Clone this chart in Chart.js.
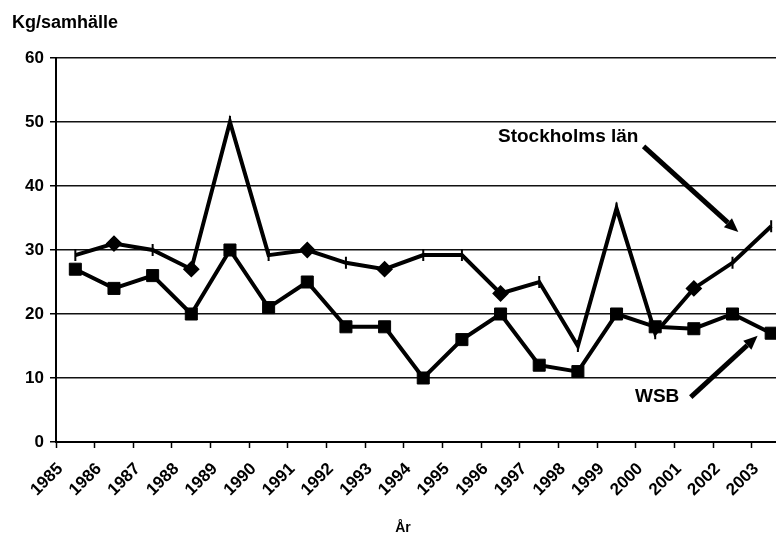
<!DOCTYPE html>
<html>
<head>
<meta charset="utf-8">
<script src="https://cdn.jsdelivr.net/npm/chart.js@4.4.1/dist/chart.umd.min.js"></script>
<style>
  html, body { margin: 0; padding: 0; background: #fff; overflow: hidden; }
  #wrap { position: relative; width: 800px; height: 540px; }
</style>
</head>
<body>
<div id="wrap"><canvas id="chart"></canvas></div>
<script>
// --- DATA ---
const years = ['1985', '1986', '1987', '1988', '1989', '1990', '1991', '1992', '1993', '1994',
               '1995', '1996', '1997', '1998', '1999', '2000', '2001', '2002', '2003'];
const stockholm = [29.2, 31, 30, 27, 50, 29.2, 30, 28, 27, 29.2, 29.2, 23.2, 25, 15, 36.5, 17, 24, 28, 33.7];
const wsb = [27, 24, 26, 20, 30, 21, 25, 18, 18, 10, 16, 20, 12, 11, 20, 18, 17.7, 20, 17];
// markörer för Stockholms län (streck eller romb)
const stockholmMarkers = ['line', 'rectRot', 'line', 'rectRot', 'line', 'line', 'rectRot', 'line', 'rectRot', 'line',
                          'line', 'rectRot', 'line', 'line', 'line', 'line', 'rectRot', 'line', 'line'];
const yMin = 0, yMax = 60, yStep = 10;

// etiketter med pilar (i dataenheter: x = kategoriindex, y = kg)
const notes = [
    { text: 'Stockholms län', x: 12.75, y: 47.7, from: [14.7, 46.2], to: [17.15, 32.8] },
    { text: 'WSB', x: 15.05, y: 7.0, from: [15.92, 7.0], to: [17.65, 16.6] }
];

const FONT = "'Liberation Sans', Arial, sans-serif";

function drawArrow(c, x1, y1, x2, y2) {
    const ang = Math.atan2(y2 - y1, x2 - x1);
    const head = 14, hw = 6;
    const bx = x2 - Math.cos(ang) * head, by = y2 - Math.sin(ang) * head;
    c.beginPath();
    c.moveTo(x1, y1);
    c.lineTo(bx, by);
    c.lineWidth = 5;
    c.strokeStyle = '#000';
    c.stroke();
    c.beginPath();
    c.moveTo(x2, y2);
    c.lineTo(bx + Math.sin(ang) * hw, by - Math.cos(ang) * hw);
    c.lineTo(bx - Math.sin(ang) * hw, by + Math.cos(ang) * hw);
    c.closePath();
    c.fillStyle = '#000';
    c.fill();
}

// texter och pilar som inte är axlar
const textPlugin = {
    id: 'texts',
    afterDraw(chart) {
        const c = chart.ctx;
        const xs = chart.scales.x, ys = chart.scales.y;
        c.save();
        c.fillStyle = '#000';
        c.textBaseline = 'middle';
        c.font = 'bold 18px ' + FONT;
        c.textAlign = 'left';
        c.fillText('Kg/samhälle', 12, 23);

        c.font = 'bold 14px ' + FONT;
        c.textAlign = 'center';
        c.fillText('År', 403, 528);

        c.font = 'bold 19px ' + FONT;
        notes.forEach(n => {
            c.fillStyle = '#000';
            c.fillText(n.text, xs.getPixelForValue(n.x), ys.getPixelForValue(n.y));
            drawArrow(c, xs.getPixelForValue(n.from[0]), ys.getPixelForValue(n.from[1]),
                         xs.getPixelForValue(n.to[0]), ys.getPixelForValue(n.to[1]));
        });
        c.restore();
    }
};

const ctx = document.getElementById('chart').getContext('2d');
new Chart(ctx, {
    type: 'line',
    data: {
        labels: years,
        datasets: [
            {
                label: 'WSB',
                data: wsb,
                borderColor: '#000',
                borderWidth: 4,
                pointStyle: 'rect',
                pointRadius: 8.5,
                pointBorderWidth: 1,
                pointBackgroundColor: '#000',
                pointBorderColor: '#000',
                tension: 0
            },
            {
                label: 'Stockholms län',
                data: stockholm,
                borderColor: '#000',
                borderWidth: 4,
                pointStyle: stockholmMarkers,
                pointRotation: stockholmMarkers.map(m => m === 'line' ? 90 : 0),
                pointRadius: stockholmMarkers.map(m => m === 'line' ? 6 : 7),
                pointBorderWidth: 2,
                pointBackgroundColor: '#000',
                pointBorderColor: '#000',
                tension: 0
            }
        ]
    },
    options: {
        responsive: true,
        maintainAspectRatio: false,
        animation: false,
        layout: { padding: { top: 58, right: 7, left: 0, bottom: 0 } },
        plugins: {
            legend: { display: false },
            tooltip: { enabled: false },
            title: { display: false }
        },
        scales: {
            x: {
                offset: true,
                grid: { offset: true, drawOnChartArea: false, drawTicks: true, tickLength: 6, color: '#000', tickWidth: 1.5 },
                border: { color: '#000', width: 2 },
                ticks: {
                    autoSkip: false, maxRotation: 45, minRotation: 45,
                    color: '#000', font: { family: FONT, size: 17, weight: 'bold' },
                    labelOffset: -15, padding: 11
                },
                afterFit(s) { s.height = 98; }
            },
            y: {
                min: yMin, max: yMax,
                grid: { color: '#111', lineWidth: 1.5, tickLength: 6, tickColor: '#000' },
                border: { color: '#000', width: 2 },
                ticks: { stepSize: yStep, color: '#000', padding: 6, font: { family: FONT, size: 17, weight: 'bold' } },
                afterFit(s) { s.width = 56; }
            }
        }
    },
    plugins: [textPlugin]
});
</script>
</body>
</html>
